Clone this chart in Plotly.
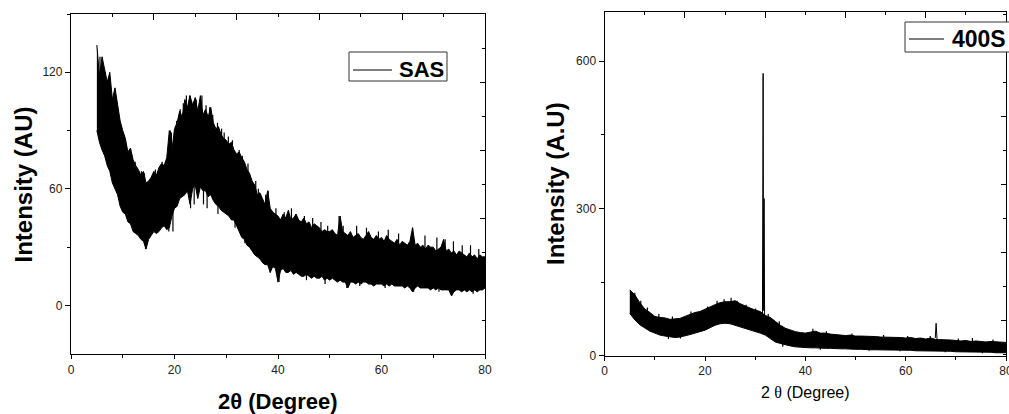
import numpy as np
import plotly.graph_objects as go

# SAS pattern, 2theta 5..80 every 0.5 deg: upper / lower edge of the noisy trace
sas_upper = [134, 118, 128, 121, 115, 120, 106, 112, 104, 95,
             90, 86, 79, 81, 75, 72, 70, 67, 69, 63,
             64, 66, 69, 67, 71, 73, 72, 76, 90, 80,
             91, 94, 100, 97, 106, 102, 108, 103, 107, 100,
             108, 98, 101, 97, 102, 94, 91, 92, 88, 86,
             85, 83, 84, 80, 78, 79, 76, 74, 70, 68,
             64, 62, 57, 58, 55, 52, 59, 50, 48, 47,
             46, 44, 47, 45, 49, 44, 45, 47, 44, 43,
             45, 42, 43, 40, 42, 41, 40, 38, 39, 38,
             38, 39, 37, 36, 46, 38, 37, 36, 38, 35,
             36, 37, 35, 34, 36, 38, 35, 34, 36, 34,
             35, 33, 36, 34, 33, 32, 34, 31, 33, 32,
             31, 33, 40, 31, 32, 30, 31, 29, 31, 30,
             30, 28, 29, 30, 34, 28, 29, 27, 28, 26,
             28, 27, 26, 25, 27, 25, 26, 24, 26, 25,
             25]
sas_lower = [90, 84, 80, 77, 72, 69, 63, 60, 57, 51,
             48, 47, 43, 42, 38, 37, 36, 34, 33, 29,
             34, 36, 38, 37, 38, 40, 41, 39, 40, 46,
             50, 51, 55, 56, 57, 59, 52, 60, 62, 55,
             61, 59, 59, 56, 57, 54, 52, 51, 49, 48,
             47, 46, 44, 44, 41, 38, 35, 34, 31, 30,
             28, 26, 25, 24, 22, 21, 21, 17, 20, 19,
             12, 18, 19, 17, 17, 18, 16, 17, 16, 15,
             15, 16, 15, 14, 15, 14, 14, 15, 13, 14,
             13, 14, 13, 12, 13, 12, 12, 9, 12, 12,
             11, 12, 11, 12, 12, 11, 11, 10, 11, 11,
             11, 10, 11, 10, 11, 10, 10, 10, 10, 9,
             10, 9, 7, 9, 10, 9, 9, 9, 9, 8,
             9, 8, 9, 8, 8, 8, 8, 5, 7, 8,
             8, 7, 8, 7, 8, 7, 8, 7, 8, 8,
             9]
# single noisy counts sticking out of the SAS band (position, tip, foot)
sas_spike_x = [5.6, 6.2, 6.6, 7.3, 7.8, 8.4, 9.4, 9.7, 10.4, 11.2, 12.4, 13.6, 14.2,
               16.3, 17.6, 18.7, 19.2, 19.4, 20.4, 21.1, 21.7, 22.3, 22.9, 23.3, 24.2,
               25.3, 26.1, 26.8, 27.4, 28.3, 29.1, 29.6, 30.4, 31.2, 32.5, 33.1, 34.2,
               35.7, 36.2, 37.6, 38.1, 39.6, 41.2, 42.6, 43.4, 45.1, 46.7, 48.3, 49.6,
               51.8, 52.6, 55.2, 57.1, 59.4, 61.3, 63.3, 66.0, 68.4, 70.7, 72.3, 73.9,
               75.6, 77.2, 78.8,
               14.4, 18.9, 19.7, 23.1, 23.8, 25.6, 26.3, 28.4, 31.7, 33.6, 38.5, 40.2,
               45.5, 49.1, 53.3, 55.8, 60.7, 66.2, 71.1, 73.6, 77.7]
sas_spike_tip = [128, 121, 120, 112, 108, 104, 94, 90, 82, 78, 74, 69, 68,
                 70, 74, 78, 90, 89, 95, 101, 104, 108, 108, 105, 106,
                 108, 103, 102, 98, 94, 91, 89, 87, 85, 80, 77, 73,
                 64, 60, 57, 59, 50, 48, 50, 47, 46, 45, 43, 41,
                 46, 41, 41, 40, 38, 39, 37, 40, 36, 35, 34, 33,
                 31, 31, 29,
                 29, 38, 38, 50, 52, 52, 50, 47, 40, 32, 17, 12,
                 13, 11, 9, 10, 9, 7, 7, 5, 6]
sas_spike_foot = [100, 98, 95, 90, 85, 80, 72, 70, 65, 60, 55, 50, 48,
                  52, 55, 58, 60, 62, 70, 75, 78, 80, 80, 82, 82,
                  82, 80, 78, 75, 72, 68, 66, 65, 63, 58, 55, 50,
                  45, 42, 38, 36, 33, 30, 30, 30, 28, 28, 27, 26,
                  25, 25, 24, 23, 23, 22, 22, 21, 20, 19, 19, 18,
                  17, 17, 17,
                  45, 55, 58, 75, 78, 78, 76, 70, 60, 50, 35, 30,
                  28, 26, 25, 24, 22, 21, 19, 18, 17]

# 400S pattern, 2theta 5..80 every 1 deg
s400_upper = [134, 124, 108, 95, 88, 80, 78, 77, 74, 75,
              76, 80, 84, 88, 90, 95, 99, 104, 108, 110,
              110, 112, 106, 101, 97, 93, 90, 82, 78, 70,
              62, 56, 52, 49, 47, 46, 48, 50, 46, 46,
              44, 43, 42, 41, 42, 40, 40, 40, 39, 39,
              38, 38, 37, 38, 37, 36, 37, 35, 36, 34,
              36, 33, 33, 32, 32, 31, 30, 31, 29, 30,
              29, 28, 29, 28, 27, 27]
s400_lower = [86, 73, 63, 56, 50, 46, 42, 40, 38, 37,
              38, 40, 43, 46, 49, 52, 57, 62, 65, 66,
              65, 62, 59, 56, 52, 49, 46, 42, 35, 28,
              25, 22, 20, 18, 17, 17, 16, 16, 15, 15,
              15, 14, 14, 14, 13, 13, 13, 12, 12, 12,
              12, 11, 11, 11, 11, 11, 11, 10, 10, 10,
              10, 10, 9, 9, 9, 8, 8, 8, 7, 7,
              7, 7, 7, 6, 6, 6]
s400_spike_x = [6.0, 7.2, 8.5, 10.8, 13.5, 17.2, 20.5, 22.4, 23.8, 25.2, 26.4, 28.2,
                30.1, 32.6, 34.8, 41.5, 44.2, 49.3, 55.6, 60.4, 64.9, 70.5, 73.3, 77.4,
                12.7, 15.1, 35.5, 43.0, 52.7, 58.9, 67.9, 75.3]
s400_spike_tip = [128, 112, 98, 85, 80, 90, 100, 112, 115, 118, 112, 104,
                  96, 85, 70, 55, 50, 45, 42, 40, 40, 35, 36, 33,
                  34, 35, 18, 12, 10, 9, 7, 5]
s400_spike_foot = [100, 88, 75, 62, 55, 65, 75, 85, 88, 88, 85, 78,
                   70, 62, 48, 30, 28, 26, 24, 23, 22, 20, 19, 18,
                   55, 57, 40, 28, 25, 23, 20, 18]
# sharp reflections of 400S
s400_peak_x = [31.45, 31.58, 31.68, 31.77, 31.88]
s400_peak_y = [85, 575, 92, 320, 78]
s400_peak2_x = [65.9, 66.07, 66.25]
s400_peak2_y = [36, 66, 34]

sas_x = np.linspace(5, 80, len(sas_upper))
s400_x = np.linspace(5, 80, len(s400_upper))

W, H = 1009, 414
FONT = "Liberation Sans, Arial, sans-serif"


def px(x):
    return x / W


def py(y):
    return 1 - y / H


def needles(xs, tips, feet):
    nx, ny = [], []
    for x, t, f in zip(xs, tips, feet):
        nx += [x, x, None]
        ny += [f, t, None]
    return nx, ny


fig = go.Figure()
# left panel
fig.add_trace(go.Scatter(x=sas_x, y=sas_lower, mode='lines',
                         line=dict(color='black', width=1), xaxis='x', yaxis='y'))
fig.add_trace(go.Scatter(x=sas_x, y=sas_upper, mode='lines',
                         line=dict(color='black', width=1), fill='tonexty',
                         fillcolor='black', xaxis='x', yaxis='y'))
nx, ny = needles(sas_spike_x, sas_spike_tip, sas_spike_foot)
fig.add_trace(go.Scatter(x=nx, y=ny, mode='lines', line=dict(color='black', width=1.2),
                         xaxis='x', yaxis='y'))
# right panel
fig.add_trace(go.Scatter(x=s400_x, y=s400_lower, mode='lines',
                         line=dict(color='black', width=1), xaxis='x2', yaxis='y2'))
fig.add_trace(go.Scatter(x=s400_x, y=s400_upper, mode='lines',
                         line=dict(color='black', width=1), fill='tonexty',
                         fillcolor='black', xaxis='x2', yaxis='y2'))
nx, ny = needles(s400_spike_x, s400_spike_tip, s400_spike_foot)
fig.add_trace(go.Scatter(x=nx, y=ny, mode='lines', line=dict(color='black', width=1.2),
                         xaxis='x2', yaxis='y2'))
fig.add_trace(go.Scatter(x=s400_peak_x, y=s400_peak_y, mode='lines',
                         line=dict(color='black', width=1), xaxis='x2', yaxis='y2'))
fig.add_trace(go.Scatter(x=s400_peak2_x, y=s400_peak2_y, mode='lines',
                         line=dict(color='black', width=1), xaxis='x2', yaxis='y2'))
# dummy traces so the mirror axes get drawn
for xa, ya in [('x3', 'y'), ('x', 'y3'), ('x4', 'y2'), ('x2', 'y4')]:
    fig.add_trace(go.Scatter(x=[None], y=[None], xaxis=xa, yaxis=ya, hoverinfo='skip'))

common = dict(showline=True, linecolor='black', linewidth=1.3, showgrid=False,
              zeroline=False, tickcolor='black', tickwidth=1.2, automargin=False,
              ticklabeloverflow='allow',
              tickfont=dict(family=FONT, size=12, color='#222'))

fig.update_layout(
    width=W, height=H, autosize=False,
    margin=dict(l=0, r=0, t=0, b=0, pad=0, autoexpand=False),
    plot_bgcolor='white', paper_bgcolor='white', showlegend=False,
    xaxis=dict(domain=[px(71), px(485)], range=[0, 80], anchor='y',
               ticks='outside', ticklen=4, tick0=0, dtick=20,
               minor=dict(dtick=10, ticks='outside', ticklen=3, tickcolor='black'), **common),
    xaxis3=dict(overlaying='x', side='top', anchor='y', range=[0, 80],
                ticks='inside', ticklen=6, tick0=0, dtick=16, showticklabels=False,
                minor=dict(dtick=8, ticks='inside', ticklen=3, tickcolor='black'), **common),
    yaxis=dict(domain=[py(354), py(14)], range=[-25, 150], anchor='x',
               ticks='outside', ticklen=5, tick0=0, dtick=60,
               minor=dict(dtick=30, ticks='outside', ticklen=3, tickcolor='black'), **common),
    yaxis3=dict(overlaying='y', side='right', anchor='x', range=[0, 340],
                ticks='inside', ticklen=5, tick0=0, dtick=68, showticklabels=False,
                minor=dict(dtick=34, ticks='inside', ticklen=3, tickcolor='black'), **common),
    xaxis2=dict(domain=[px(604.7), px(1006)], range=[0, 80], anchor='y2',
                ticks='outside', ticklen=4, tick0=0, dtick=20,
                minor=dict(dtick=10, ticks='outside', ticklen=3, tickcolor='black'), **common),
    xaxis4=dict(overlaying='x2', side='top', anchor='y2', range=[0, 80],
                ticks='inside', ticklen=6, tick0=0, dtick=16, showticklabels=False,
                minor=dict(dtick=8, ticks='inside', ticklen=3, tickcolor='black'), **common),
    yaxis2=dict(domain=[py(355.7), py(12)], range=[0, 700], anchor='x2',
                ticks='outside', ticklen=5, tick0=0, dtick=300,
                minor=dict(dtick=150, ticks='outside', ticklen=3, tickcolor='black'), **common),
    yaxis4=dict(overlaying='y2', side='right', anchor='x2', range=[0, 343.7],
                ticks='inside', ticklen=5, tick0=35.7, dtick=68, showticklabels=False,
                minor=dict(tick0=1.7, dtick=34, ticks='inside', ticklen=3, tickcolor='black'),
                **common),
)

# legend boxes
fig.add_shape(type='rect', xref='paper', yref='paper', x0=px(349), x1=px(447),
              y0=py(81), y1=py(52), line=dict(color='#333', width=1), fillcolor='white')
fig.add_shape(type='line', xref='paper', yref='paper', x0=px(353), x1=px(392),
              y0=py(70), y1=py(70), line=dict(color='black', width=1))
fig.add_annotation(text='<b>SAS</b>', xref='paper', yref='paper', x=px(397), y=py(69.5),
                   xanchor='left', yanchor='middle', showarrow=False,
                   font=dict(family=FONT, size=22, color='black'))
fig.add_shape(type='rect', xref='paper', yref='paper', x0=px(905), x1=px(1015),
              y0=py(52), y1=py(22), line=dict(color='#333', width=1), fillcolor='white')
fig.add_shape(type='line', xref='paper', yref='paper', x0=px(909), x1=px(944),
              y0=py(39), y1=py(39), line=dict(color='black', width=1))
fig.add_annotation(text='<b>400S</b>', xref='paper', yref='paper', x=px(950), y=py(39.2),
                   xanchor='left', yanchor='middle', showarrow=False,
                   font=dict(family=FONT, size=23, color='black'))

# axis titles
fig.add_annotation(text='<b>Intensity (AU)</b>', xref='paper', yref='paper',
                   x=px(22.5), y=py(185), textangle=-90, showarrow=False,
                   xanchor='center', yanchor='middle',
                   font=dict(family=FONT, size=24, color='black'))
fig.add_annotation(text='<b>2θ (Degree)</b>', xref='paper', yref='paper',
                   x=px(278), y=py(401), showarrow=False,
                   xanchor='center', yanchor='middle',
                   font=dict(family=FONT, size=22, color='black'))
fig.add_annotation(text='<b>Intensity (A.U)</b>', xref='paper', yref='paper',
                   x=px(555.7), y=py(183.3), textangle=-90, showarrow=False,
                   xanchor='center', yanchor='middle',
                   font=dict(family=FONT, size=24, color='black'))
fig.add_annotation(text='2 <span style="font-family:Liberation Serif">θ</span> (Degree)',
                   xref='paper', yref='paper', x=px(805), y=py(392.5), showarrow=False,
                   xanchor='center', yanchor='middle',
                   font=dict(family=FONT, size=16, color='black'))

# page body has a default 8px margin; drop it so the figure fills the window
fig.write_html("out.html",
               config={'responsive': False, 'displayModeBar': False},
               post_script="document.body.style.margin='0';document.body.style.overflow='hidden';")
